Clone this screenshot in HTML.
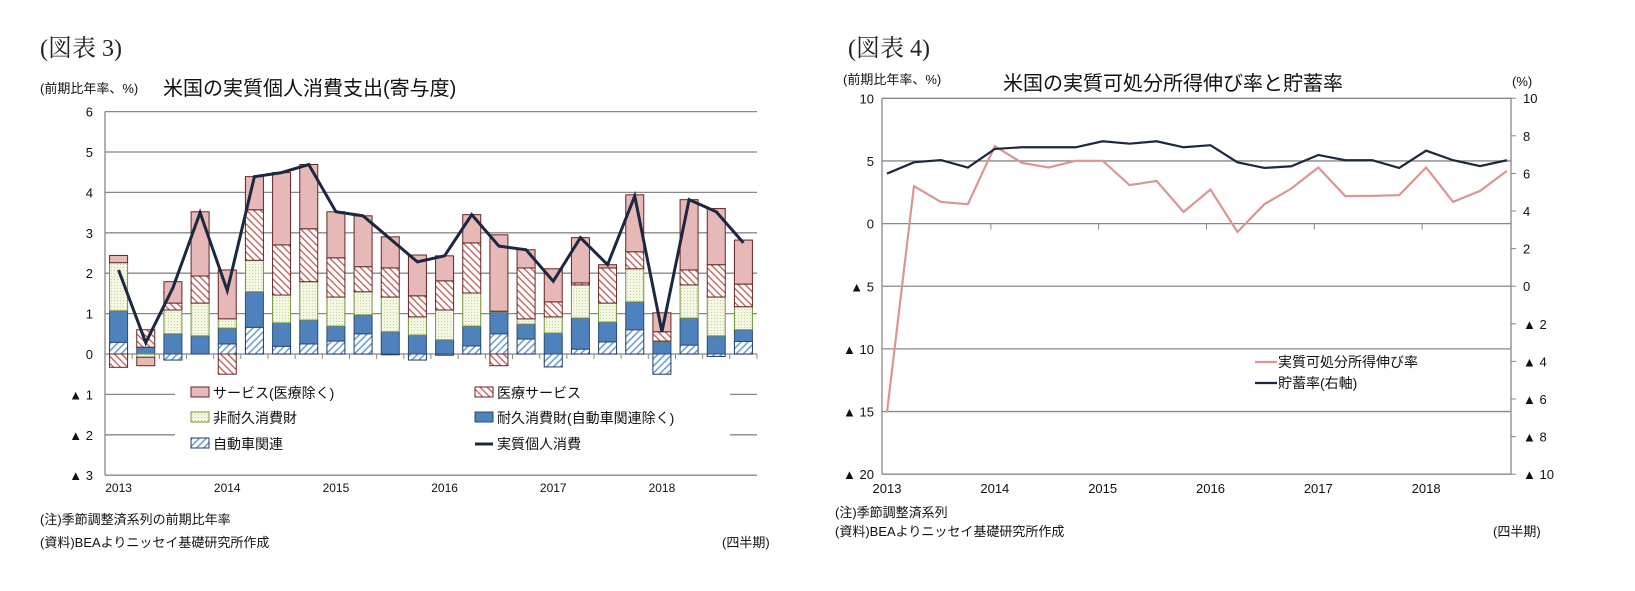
<!DOCTYPE html>
<html><head><meta charset="utf-8">
<style>
body{margin:0;background:#fff;width:1635px;height:591px;overflow:hidden;font-family:"Liberation Sans","Noto Sans CJK JP",sans-serif;}
svg{position:absolute;left:0;top:0}
</style></head><body>
<svg id="c" width="1635" height="591" xmlns="http://www.w3.org/2000/svg">
<defs>
<pattern id="pMed" width="5" height="5" patternUnits="userSpaceOnUse" patternTransform="rotate(-45)"><rect width="5" height="5" fill="#fff"/><rect width="1.3" height="5" fill="#c45a57"/></pattern>
<pattern id="pAuto" width="5" height="5" patternUnits="userSpaceOnUse" patternTransform="rotate(45)"><rect width="5" height="5" fill="#fff"/><rect width="1.6" height="5" fill="#6f9fd0"/></pattern>
<pattern id="pNon" width="3" height="3" patternUnits="userSpaceOnUse"><rect width="3" height="3" fill="#f3f7e4"/><rect width="1" height="1" fill="#c6d49a"/></pattern>
</defs>
<g font-family="Liberation Serif, Noto Serif CJK SC, serif" font-size="24" fill="#222">
<text x="40" y="56">(図表 3)</text>
<text x="848" y="56">(図表 4)</text>
</g>
<g font-size="13" fill="#111">
<text x="40" y="93">(前期比年率、%)</text>
<text x="843" y="84">(前期比年率、%)</text>
<text x="1512" y="86">(%)</text>
<text x="40" y="524">(注)季節調整済系列の前期比年率</text>
<text x="40" y="547">(資料)BEAよりニッセイ基礎研究所作成</text>
<text x="722" y="547">(四半期)</text>
<text x="835" y="517">(注)季節調整済系列</text>
<text x="835" y="536">(資料)BEAよりニッセイ基礎研究所作成</text>
<text x="1493" y="536">(四半期)</text>
</g>
<text x="163" y="95" font-size="20" fill="#111">米国の実質個人消費支出(寄与度)</text>
<text x="1003" y="90" font-size="20" fill="#111">米国の実質可処分所得伸び率と貯蓄率</text>
<g id="L"></g><g id="R"></g>
</svg>
<script>
const quarters=["2013Q1","2013Q2","2013Q3","2013Q4","2014Q1","2014Q2","2014Q3","2014Q4","2015Q1","2015Q2","2015Q3","2015Q4","2016Q1","2016Q2","2016Q3","2016Q4","2017Q1","2017Q2","2017Q3","2017Q4","2018Q1","2018Q2","2018Q3","2018Q4"];
const yearLabels=["2013","2014","2015","2016","2017","2018"];
const autoVals=[0.29,0,-0.15,0,0.25,0.66,0.19,0.25,0.32,0.5,-0.02,-0.15,-0.03,0.2,0.5,0.37,-0.32,0.12,0.3,0.6,-0.5,0.22,-0.06,0.31];
const durableVals=[0.78,0.17,0.5,0.45,0.39,0.88,0.58,0.59,0.37,0.47,0.55,0.47,0.35,0.49,0.54,0.37,0.52,0.77,0.49,0.69,0.3,0.67,0.45,0.29];
const nondurVals=[1.19,-0.08,0.59,0.81,0.23,0.78,0.69,0.95,0.72,0.57,0.86,0.45,0.74,0.82,0.02,0.13,0.4,0.82,0.47,0.82,0.02,0.82,0.96,0.57];
const medVals=[-0.33,0.43,0.17,0.67,-0.5,1.25,1.24,1.31,0.97,0.62,0.72,0.52,0.72,1.24,-0.29,1.26,0.37,0.05,0.87,0.42,0.23,0.37,0.8,0.56];
const svcVals=[0.18,-0.21,0.53,1.59,1.21,0.82,1.79,1.59,1.14,1.26,0.77,1.01,0.62,0.7,1.89,0.45,0.82,1.12,0.08,1.41,0.47,1.74,1.39,1.09];
const totalVals=[2.08,0.28,1.64,3.5,1.57,4.39,4.49,4.69,3.52,3.42,2.85,2.28,2.43,3.45,2.67,2.58,1.8,2.88,2.21,3.91,0.55,3.82,3.52,2.75];
const leftTicks=[6,5,4,3,2,1,0,-1,-2,-3];
const incomeVals=[-15.07,2.99,1.73,1.55,6.19,4.85,4.48,5.01,5.01,3.07,3.41,0.93,2.72,-0.67,1.55,2.8,4.48,2.19,2.21,2.27,4.48,1.73,2.61,4.21];
const savingVals=[5.99,6.59,6.71,6.31,7.3,7.39,7.39,7.39,7.71,7.58,7.71,7.39,7.5,6.59,6.29,6.38,6.98,6.7,6.7,6.29,7.21,6.7,6.39,6.7];
const r1Ticks=[10,5,0,-5,-10,-15,-20];
const r2Ticks=[10,8,6,4,2,0,-2,-4,-6,-8,-10];

const NS="http://www.w3.org/2000/svg";
function mk(p,tag,a,txt){const e=document.createElementNS(NS,tag);for(const k in a)e.setAttribute(k,a[k]);if(txt!==undefined)e.textContent=txt;p.appendChild(e);return e;}
const lab=v=>v<0?"▲ "+(-v):String(v);

const L=document.getElementById('L');
const lx0=105,lx1=757,ly=v=>354-v*40.4,pitch=(lx1-lx0)/quarters.length,cx=i=>lx0+pitch*(i+0.5);
leftTicks.forEach(t=>{
 const g=mk(L,'line',{x1:lx0,x2:lx1,y1:ly(t),y2:ly(t),stroke:'#888','stroke-width':1.3});
 
 const tx=mk(L,'text',{x:lx0-12,y:ly(t)+5,'text-anchor':'end','font-size':13,fill:'#111'},lab(t));
 
});
mk(L,'line',{x1:lx0,x2:lx0,y1:ly(6),y2:ly(-3),stroke:'#888','stroke-width':1.3});
for(let i=0;i<=quarters.length;i++){mk(L,'line',{x1:lx0+pitch*i,x2:lx0+pitch*i,y1:ly(0),y2:ly(0)+5,stroke:'#888'});}
yearLabels.forEach((y,k)=>{const t=mk(L,'text',{x:cx(k*4),y:492,'text-anchor':'middle','font-size':12,fill:'#111'},y);
 });
const series=[[autoVals,'url(#pAuto)','#1f3864','auto'],[durableVals,'#4f81bd','#2c4d75','durable'],[nondurVals,'url(#pNon)','#77933c','nondurable'],[medVals,'url(#pMed)','#632523','medical-service'],[svcVals,'#e6b8b7','#632523','service']];
const bw=18;
quarters.forEach((q,i)=>{
 let pos=0,neg=0;
 series.forEach(([arr,fill,st,nm])=>{
  const v=arr[i];if(v===0)return;
  let a,b;if(v>0){a=pos;b=pos+v;pos=b;}else{a=neg;b=neg+v;neg=b;}
  const r=mk(L,'rect',{x:cx(i)-bw/2,y:Math.min(ly(a),ly(b)),width:bw,height:Math.abs(ly(a)-ly(b)),fill:fill,stroke:st,'stroke-width':1});
  
  
 });
});
const tl=mk(L,'polyline',{points:totalVals.map((v,i)=>cx(i)+','+ly(v)).join(' '),fill:'none',stroke:'#1c2740','stroke-width':3});

const lg=mk(L,'g',{});

mk(lg,'rect',{x:175,y:380,width:555,height:82,fill:'#fff'});
const items=[['サービス(医療除く)','#e6b8b7','#632523',191,398],['医療サービス','url(#pMed)','#632523',475,398],['非耐久消費財','url(#pNon)','#77933c',191,423],['耐久消費財(自動車関連除く)','#4f81bd','#2c4d75',475,423],['自動車関連','url(#pAuto)','#1f3864',191,449]];
items.forEach(([t,f,s,x,y])=>{mk(lg,'rect',{x:x,y:y-11,width:18,height:10,fill:f,stroke:s});
 const e=mk(lg,'text',{x:x+22,y:y,'font-size':14,fill:'#111'},t);});
mk(lg,'line',{x1:475,x2:493,y1:444,y2:444,stroke:'#1c2740','stroke-width':3});
const le=mk(lg,'text',{x:497,y:449,'font-size':14,fill:'#111'},'実質個人消費');

const R=document.getElementById('R');
const rx0=882,rx1=1511,y1=v=>223.6-v*12.53,y2=v=>286.2-v*18.8;
const px=i=>887+i*(1507-887)/(quarters.length-1);
r1Ticks.forEach(t=>{
 const g=mk(R,'line',{x1:rx0,x2:rx1,y1:y1(t),y2:y1(t),stroke:'#888','stroke-width':1.3});
 
 const tx=mk(R,'text',{x:rx0-8,y:y1(t)+5,'text-anchor':'end','font-size':13,fill:'#111'},lab(t));
 
});
mk(R,'line',{x1:rx0,x2:rx0,y1:y1(10),y2:y1(-20),stroke:'#888','stroke-width':1.3});
mk(R,'line',{x1:rx1,x2:rx1,y1:y1(10),y2:y1(-20),stroke:'#888','stroke-width':1.3});
r2Ticks.forEach(t=>{mk(R,'line',{x1:rx1,x2:rx1+5,y1:y2(t),y2:y2(t),stroke:'#888'});
 const tx=mk(R,'text',{x:rx1+12,y:y2(t)+5,'font-size':13,fill:'#111'},lab(t));
 });
yearLabels.forEach((y,k)=>{if(k>0)mk(R,'line',{x1:px(k*4)-4,x2:px(k*4)-4,y1:y1(0),y2:y1(0)+6,stroke:'#888'});
 const t=mk(R,'text',{x:px(k*4),y:493,'text-anchor':'middle','font-size':13,fill:'#111'},y);
 });
const il=mk(R,'polyline',{points:incomeVals.map((v,i)=>px(i)+','+y1(v)).join(' '),fill:'none',stroke:'#d99694','stroke-width':2.2});

const sl=mk(R,'polyline',{points:savingVals.map((v,i)=>px(i)+','+y2(v)).join(' '),fill:'none',stroke:'#1c2740','stroke-width':2.2});

const rg=mk(R,'g',{});
mk(rg,'line',{x1:1255,x2:1277,y1:362,y2:362,stroke:'#d99694','stroke-width':2.2});
mk(rg,'line',{x1:1255,x2:1277,y1:383,y2:383,stroke:'#1c2740','stroke-width':2.2});
const a1=mk(rg,'text',{x:1278,y:367,'font-size':14,fill:'#111'},'実質可処分所得伸び率');
const a2=mk(rg,'text',{x:1278,y:388,'font-size':14,fill:'#111'},'貯蓄率(右軸)');
</script>
</body></html>
